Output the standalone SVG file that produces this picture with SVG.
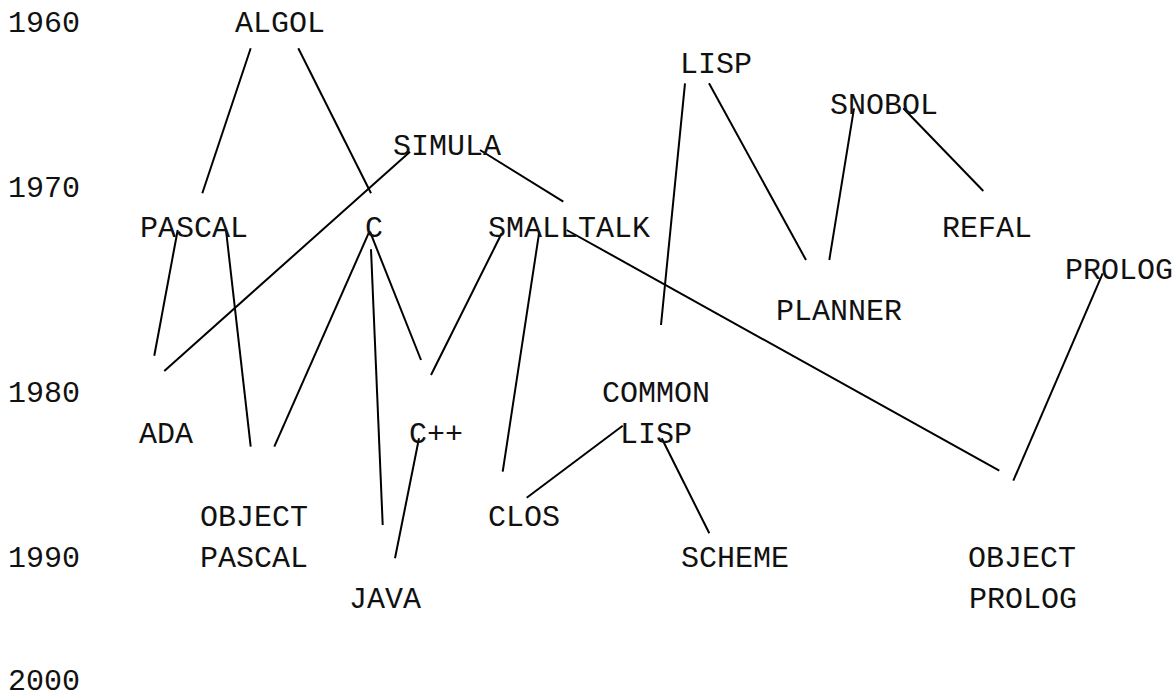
<svg xmlns="http://www.w3.org/2000/svg" width="1175" height="694" viewBox="0 0 1175 694">
<style>
text{font-family:"Liberation Mono","Courier New",monospace;font-size:30px;fill:#111}
.c line{stroke:#000;stroke-width:2;stroke-linecap:butt}
</style>
<rect width="1175" height="694" fill="#fff"/>
<g id="years">
<text x="8" y="32">1960</text>
<text x="8" y="197">1970</text>
<text x="8" y="402">1980</text>
<text x="8" y="567">1990</text>
<text x="8" y="690">2000</text>
</g>
<g id="connectors" class="c">
<line x1="250.7" y1="48.3" x2="202.3" y2="193.3"/>
<line x1="298.3" y1="48.3" x2="371" y2="193.3"/>
<line x1="410" y1="151.7" x2="164.3" y2="371"/>
<line x1="480" y1="150" x2="563.3" y2="201.7"/>
<line x1="177.7" y1="230" x2="154.3" y2="355.7"/>
<line x1="226" y1="230" x2="250.7" y2="446.7"/>
<line x1="369.3" y1="231.7" x2="274.3" y2="446.7"/>
<line x1="371" y1="249.3" x2="382.7" y2="525"/>
<line x1="370" y1="231.7" x2="421" y2="360"/>
<line x1="501.7" y1="233.3" x2="431" y2="375"/>
<line x1="419" y1="438.3" x2="395" y2="558.3"/>
<line x1="539.3" y1="231.7" x2="502.7" y2="471.7"/>
<line x1="566.7" y1="230" x2="999.3" y2="470.7"/>
<line x1="685" y1="83.3" x2="661" y2="325"/>
<line x1="709" y1="83.3" x2="806" y2="260"/>
<line x1="854" y1="108.3" x2="829.3" y2="260"/>
<line x1="903.3" y1="108.3" x2="983.3" y2="191"/>
<line x1="1102.7" y1="273.3" x2="1013.3" y2="480.7"/>
<line x1="622.7" y1="425.7" x2="526.7" y2="497.7"/>
<line x1="661.7" y1="438.3" x2="709.3" y2="533.3"/>
</g>
<g id="algol"><text x="235" y="32">ALGOL</text></g>
<g id="lisp"><text x="680" y="73">LISP</text></g>
<g id="snobol"><text x="830" y="114">SNOBOL</text></g>
<g id="simula"><text x="393" y="155">SIMULA</text></g>
<g id="pascal"><text x="140" y="237">PASCAL</text></g>
<g id="c"><text x="365" y="237">C</text></g>
<g id="smalltalk"><text x="488" y="237">SMALLTALK</text></g>
<g id="refal"><text x="942" y="237">REFAL</text></g>
<g id="prolog"><text x="1065" y="279">PROLOG</text></g>
<g id="planner"><text x="776" y="320">PLANNER</text></g>
<g id="common-lisp"><text x="602" y="402">COMMON</text><text x="620" y="443">LISP</text></g>
<g id="ada"><text x="139" y="443">ADA</text></g>
<g id="cpp"><text x="409" y="443">C++</text></g>
<g id="clos"><text x="488" y="526">CLOS</text></g>
<g id="object-pascal"><text x="200" y="526">OBJECT</text><text x="200" y="567">PASCAL</text></g>
<g id="scheme"><text x="681" y="567">SCHEME</text></g>
<g id="java"><text x="349" y="608">JAVA</text></g>
<g id="object-prolog"><text x="968" y="567">OBJECT</text><text x="969" y="608">PROLOG</text></g>
</svg>
